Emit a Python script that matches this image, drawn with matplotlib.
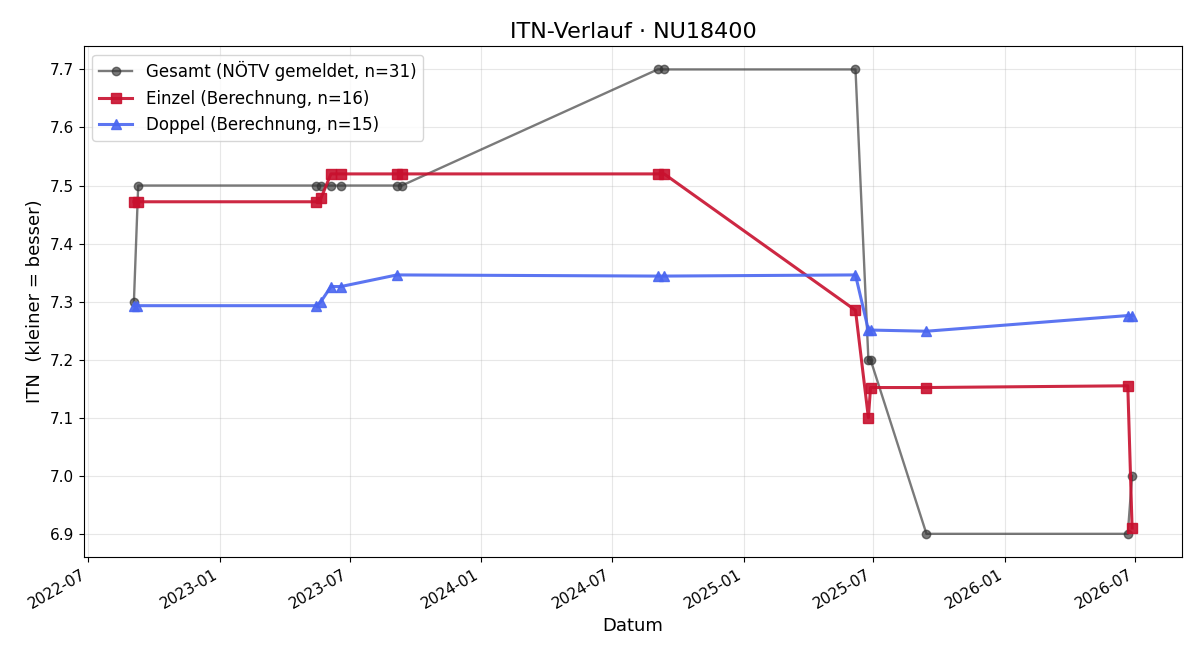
import matplotlib
matplotlib.use("Agg")
import matplotlib.pyplot as plt
import matplotlib.dates as mdates
import pandas as pd

dates_all = ["2022-09-03", "2022-09-09", "2023-05-15", "2023-05-22", "2023-06-05",
             "2023-06-19", "2023-09-05", "2023-09-12", "2024-09-03", "2024-09-12",
             "2025-06-06", "2025-06-24", "2025-06-27", "2025-09-13", "2026-06-21",
             "2026-06-27"]
gesamt = [7.3, 7.5, 7.5, 7.5, 7.5, 7.5, 7.5, 7.5, 7.7, 7.7, 7.7, 7.2, 7.2, 6.9, 6.9, 7.0]
einzel = [7.472, 7.472, 7.472, 7.478, 7.52, 7.52, 7.52, 7.52, 7.52, 7.52, 7.285, 7.10,
          7.152, 7.152, 7.155, 6.91]
doppel_dates = ["2022-09-03", "2022-09-07", "2023-05-15", "2023-05-22", "2023-06-05",
                "2023-06-19", "2023-09-05", "2024-09-03", "2024-09-12", "2025-06-06",
                "2025-06-24", "2025-06-27", "2025-09-13", "2026-06-21", "2026-06-27"]
doppel = [7.293, 7.293, 7.293, 7.30, 7.326, 7.326, 7.346, 7.344, 7.344, 7.346, 7.251,
          7.251, 7.249, 7.276, 7.276]

d_all = pd.to_datetime(dates_all)
d_dop = pd.to_datetime(doppel_dates)

fig, ax = plt.subplots(figsize=(12, 6.6), dpi=100)
ax.plot(d_all, gesamt, color="#333333", alpha=0.65, lw=1.7, marker="o", ms=6,
        label="Gesamt (NÖTV gemeldet, n=31)", zorder=2)
ax.plot(d_all, einzel, color="#C8102E", alpha=0.9, lw=2.2, marker="s", ms=7,
        label="Einzel (Berechnung, n=16)", zorder=3)
ax.plot(d_dop, doppel, color="#4A66F0", alpha=0.9, lw=2.2, marker="^", ms=7,
        label="Doppel (Berechnung, n=15)", zorder=3)

ax.set_title("ITN-Verlauf · NU18400", fontsize=16)
ax.set_xlabel("Datum", fontsize=13)
ax.set_ylabel("ITN  (kleiner = besser)", fontsize=13)
ax.grid(True, alpha=0.3)
ax.tick_params(labelsize=11)
ax.xaxis.set_major_locator(mdates.MonthLocator(bymonth=[1, 7]))
ax.xaxis.set_major_formatter(mdates.DateFormatter("%Y-%m"))
ax.legend(loc="upper left", fontsize=12)
fig.autofmt_xdate()
fig.subplots_adjust(left=0.07, right=0.985, top=0.930, bottom=0.156)
fig.savefig("out.png", dpi=100)
